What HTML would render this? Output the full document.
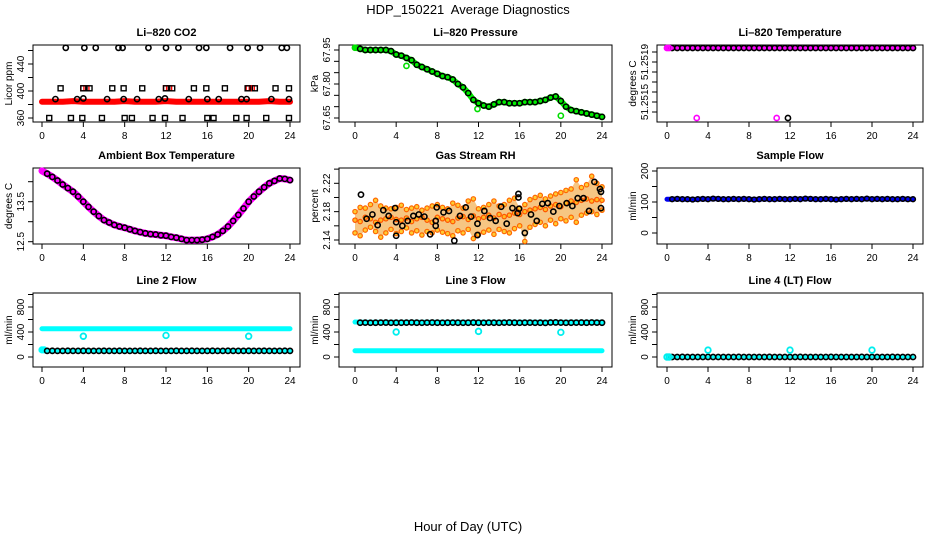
<!DOCTYPE html>
<html><head><meta charset="utf-8"><style>
html,body{margin:0;padding:0;background:#fff;}
svg{display:block;font-family:"Liberation Sans",sans-serif;}
</style></head><body>
<svg id="chart" width="936" height="540" viewBox="0 0 936 540" xmlns="http://www.w3.org/2000/svg">
<rect x="0" y="0" width="936" height="540" fill="#fff"/>
<text x="468" y="14" font-size="13" text-anchor="middle">HDP_150221&#160; Average Diagnostics</text>
<text x="468" y="531" font-size="13" text-anchor="middle">Hour of Day (UTC)</text>
</svg>
<script>
const hours49 = [0,0.5,1,1.5,2,2.5,3,3.5,4,4.5,5,5.5,6,6.5,7,7.5,8,8.5,9,9.5,10,10.5,11,11.5,12,12.5,13,13.5,14,14.5,15,15.5,16,16.5,17,17.5,18,18.5,19,19.5,20,20.5,21,21.5,22,22.5,23,23.5,24];
const hours25 = [0,1,2,3,4,5,6,7,8,9,10,11,12,13,14,15,16,17,18,19,20,21,22,23,24];
const xTicks = [0,4,8,12,16,20,24];

// CO2
const co2TopH = [2.3,4.1,5.2,7.4,7.8,10.3,12.0,13.2,15.2,15.9,18.2,19.9,21.1,23.2,23.7];
const co2TopV = [464,464,464,464,464,464,464,464,464,464,464,464,464,464,464];
const co2SqH = [1.8,4.0,4.6,6.8,7.9,9.7,12.0,12.6,14.7,15.9,17.7,19.9,20.6,22.6,23.9];
const co2SqV = [404,404,404,404,404,404,404,404,404,404,404,404,404,404,404];
const co2MidH = [1.3,3.4,4.0,6.3,7.9,9.2,11.3,11.9,14.2,16.0,17.1,19.3,19.8,22.2,23.9];
const co2MidV = [388,388,389,388,388,388,388,389,388,388,388,388,388,388,388];
const co2BotH = [0.7,2.8,3.9,5.8,8.0,8.7,10.7,11.9,13.6,16.0,16.6,18.8,19.8,21.7,23.9];
const co2BotV = [360,360,360,360,360,360,360,360,360,360,360,360,360,360,360];
const co2RedV = [384,384,384,385,384,384,384,384,385,384,384,384,385,384,384,384,384,384,384,384,384,384,385,384,384];
const co2RedSqH = [4.0,4.3,12.0,12.3,20.0,20.3];
const co2RedSqV = [404,404,404,404,404,404];

// Pressure
const presV = [67.96,67.955,67.95,67.95,67.95,67.95,67.95,67.945,67.93,67.925,67.915,67.905,67.885,67.875,67.865,67.855,67.845,67.835,67.83,67.82,67.80,67.785,67.76,67.73,67.715,67.705,67.70,67.71,67.72,67.72,67.715,67.715,67.715,67.72,67.72,67.72,67.725,67.73,67.74,67.745,67.725,67.70,67.685,67.68,67.675,67.67,67.665,67.66,67.655];
const presOutH = [5.0,11.9,20.0];
const presOutV = [67.88,67.69,67.66];

// Li-820 temperature
const tempV = [51.25204,51.25204,51.25204,51.25204,51.25204,51.25204,51.25204,51.25204,51.25204,51.25204,51.25204,51.25204,51.25204,51.25204,51.25204,51.25204,51.25204,51.25204,51.25204,51.25204,51.25204,51.25204,51.25204,51.25204,51.25204,51.25204,51.25204,51.25204,51.25204,51.25204,51.25204,51.25204,51.25204,51.25204,51.25204,51.25204,51.25204,51.25204,51.25204,51.25204,51.25204,51.25204,51.25204,51.25204,51.25204,51.25204,51.25204,51.25204,51.25204];
const tempMagH = [0.0,0.2,2.9,10.7];
const tempMagV = [51.25204,51.25204,51.25134,51.25134];
const tempLowH = [11.8];
const tempLowV = [51.25134];

// Ambient box temperature
const ambV = [14.27,14.2,14.12,14.03,13.93,13.84,13.75,13.63,13.5,13.37,13.25,13.14,13.04,12.98,12.92,12.88,12.85,12.81,12.77,12.74,12.71,12.69,12.68,12.66,12.65,12.62,12.6,12.57,12.54,12.54,12.54,12.55,12.57,12.62,12.68,12.77,12.88,13.02,13.17,13.33,13.5,13.63,13.75,13.86,13.96,14.02,14.08,14.07,14.04];

// Gas stream RH
const rhHi = [2.180,2.186,2.185,2.190,2.196,2.188,2.185,2.184,2.186,2.189,2.183,2.185,2.187,2.182,2.185,2.188,2.190,2.186,2.184,2.192,2.189,2.185,2.195,2.198,2.184,2.186,2.190,2.195,2.188,2.190,2.196,2.199,2.185,2.190,2.197,2.200,2.203,2.198,2.202,2.205,2.207,2.210,2.212,2.225,2.214,2.218,2.230,2.220,2.215];
const rhMid = [2.168,2.166,2.172,2.170,2.165,2.168,2.170,2.172,2.169,2.168,2.171,2.166,2.170,2.172,2.168,2.165,2.172,2.170,2.168,2.166,2.171,2.173,2.169,2.174,2.170,2.172,2.175,2.171,2.176,2.173,2.175,2.178,2.176,2.180,2.182,2.184,2.186,2.183,2.188,2.190,2.187,2.192,2.195,2.193,2.196,2.198,2.195,2.197,2.196];
const rhLo = [2.150,2.146,2.154,2.158,2.152,2.144,2.150,2.155,2.149,2.152,2.157,2.150,2.153,2.147,2.152,2.150,2.154,2.151,2.149,2.146,2.153,2.150,2.155,2.142,2.148,2.151,2.154,2.148,2.155,2.152,2.150,2.156,2.160,2.138,2.158,2.162,2.165,2.160,2.168,2.163,2.170,2.167,2.172,2.165,2.175,2.178,2.180,2.176,2.182];
const rhBlkH = [0.58,1.13,1.69,2.2,2.75,3.27,3.89,4.0,4.0,4.6,5.12,5.67,6.2,6.74,7.3,7.84,7.84,7.94,8.6,9.13,9.65,10.2,10.76,11.28,11.9,11.9,12.57,13.12,13.67,14.74,14.2,15.3,15.88,15.88,15.94,15.8,16.5,17.1,17.66,18.2,18.73,19.27,19.86,20.57,21.12,21.64,22.2,22.74,23.26,23.8,23.9,23.9];
const rhBlkV = [2.204,2.170,2.176,2.161,2.182,2.174,2.185,2.165,2.146,2.160,2.167,2.174,2.176,2.173,2.148,2.167,2.160,2.186,2.179,2.181,2.139,2.174,2.186,2.173,2.163,2.147,2.181,2.171,2.167,2.163,2.187,2.185,2.205,2.200,2.184,2.178,2.150,2.176,2.167,2.191,2.192,2.180,2.188,2.192,2.188,2.199,2.199,2.181,2.222,2.212,2.185,2.208];

// Sample flow
const sampV = [109,109,110,109,109,108,109,110,109,111,110,109,109,110,109,110,109,108,109,110,109,109,110,109,109,110,109,111,110,109,109,110,109,108,109,110,109,110,109,111,109,110,109,110,109,109,110,109,109];

// Line flows
const l2HiV = [452,452,452,452,452,452,452,452,452,452,452,452,452,452,452,452,452,452,452,452,452,452,452,452,452];
const l2LoV = [98,98,99,98,98,99,98,98,99,98,98,98,99,98,98,99,98,98,98,99,98,98,99,98,98,98,99,98,98,99,98,98,98,99,98,98,99,98,98,98,99,98,98,99,98,98,98,99,98];
const l2DipH = [4,12,20];
const l2DipV = [332,345,332];
const l2StartH = [0,0.2];
const l2StartV = [114,114];

const l3BlkV = [548,549,550,548,549,550,551,548,549,549,550,552,549,548,550,551,549,548,549,550,549,548,549,551,549,548,550,549,548,550,551,549,548,549,550,548,549,546,552,553,550,548,549,550,551,549,552,550,549];
const l3CyanHiV = [560,556,556,556,556,556,556,556,556,556,556,556,556,556,556,556,556,556,556,556,556,556,556,556,556];
const l3CyanLoV = [100,100,100,100,100,100,100,100,100,100,100,100,100,100,100,100,100,100,100,100,100,100,100,100,100];
const l3DipH = [4,12,20];
const l3DipV = [400,410,395];

const l4BlkV = [0,0,0,1,0,0,0,0,1,0,0,0,0,0,1,0,0,0,0,0,1,0,0,0,0,0,1,0,0,0,0,0,1,0,0,0,0,0,1,0,0,0,0,0,1,0,0,0,0];
const l4CyanH = [0,0.2,4,12,20];
const l4CyanV = [0,0,110,110,110];

const svg = document.getElementById('chart');
const NS = 'http://www.w3.org/2000/svg';
function mk(tag, attrs, parent){
  const e = document.createElementNS(NS, tag);
  for (const k in attrs) e.setAttribute(k, attrs[k]);
  (parent||svg).appendChild(e);
  return e;
}

function makePanel(key, title, bx0, by0, bx1, by1, hx0, hx1, v1, p1, v2, p2, ticks, labels, ylab){
  const g = mk('g', {});
  
  
  const sx = h => hx0 + (h/24)*(hx1-hx0);
  const sy = v => p1 + (v - v1)*(p2-p1)/(v2-v1);
  const box = mk('rect', {x:bx0, y:by0, width:bx1-bx0, height:by1-by0, fill:'none', stroke:'#000', 'stroke-width':1}, g);
  
  
  const t = mk('text', {x:(bx0+bx1)/2, y:by0-9, 'font-size':11, 'font-weight':'bold', 'text-anchor':'middle'}, g);
  t.textContent = title;
  
  
  const xa = mk('g', {}, g);
  
  
  xTicks.forEach(h => {
    const ln = mk('line', {x1:sx(h), x2:sx(h), y1:by1, y2:by1+5, stroke:'#000'}, xa);
    
    
    const tx = mk('text', {x:sx(h), y:by1+17, 'font-size':10, 'text-anchor':'middle'}, xa);
    tx.textContent = h;
    
    
  });
  const ya = mk('g', {}, g);
  
  
  ticks.forEach((v, i) => {
    const y = sy(v);
    const ln = mk('line', {x1:bx0-5, x2:bx0, y1:y, y2:y, stroke:'#000'}, ya);
    
    
    if (labels[i] !== '') {
      const tx = mk('text', {x:0, y:0, 'font-size':10, 'text-anchor':'middle', transform:'translate(' + (bx0-9) + ',' + y + ') rotate(-90)'}, ya);
      tx.textContent = labels[i];
      
      
    }
  });
  const yl = mk('text', {x:0, y:0, 'font-size':10, 'text-anchor':'middle', transform:'translate(' + (bx0-21) + ',' + ((by0+by1)/2) + ') rotate(-90)'}, g);
  yl.textContent = ylab;
  
  
  const marks = mk('g', {}, g);
  
  
  return {sx, sy, g: marks};
}

function circles(P, hs, vs, color, r, sw, fill, name){
  hs.forEach((h, i) => {
    const c = mk('circle', {cx:P.sx(h), cy:P.sy(vs[i]), r:r, fill:fill||'none', stroke:color, 'stroke-width':sw}, P.g);
    
    
  });
}
function squares(P, hs, vs, color, name){
  hs.forEach((h, i) => {
    const s = mk('rect', {x:P.sx(h)-2.5, y:P.sy(vs[i])-2.5, width:5, height:5, fill:'none', stroke:color, 'stroke-width':1.4}, P.g);
    
    
  });
}
function band(P, hs, vs, color, w, name){
  const pts = hs.map((h, i) => P.sx(h) + ',' + P.sy(vs[i])).join(' ');
  const pl = mk('polyline', {points:pts, fill:'none', stroke:color, 'stroke-width':w, 'stroke-linejoin':'round', 'stroke-linecap':'round'}, P.g);
  
  
}

const C = [[33,300,42,290],[339,612,355,602],[657,923,667,913]];
const R = [[45,122],[168,244],[293,367]];

let P = makePanel('co2', 'Li\u2013820 CO2', C[0][0], R[0][0], C[0][1], R[0][1], C[0][2], C[0][3], 360, 118, 440, 64,
  [360,380,400,420,440,460], ['360','','400','','440',''], 'Licor ppm');
band(P, hours25, co2RedV, '#ff0000', 6, 'co2-red-series');
squares(P, co2RedSqH, co2RedSqV, '#ff0000', 'co2-red-point');
circles(P, co2TopH, co2TopV, '#000', 2.6, 1.6, null, 'co2-high-point');
squares(P, co2SqH, co2SqV, '#000', 'co2-square-point');
circles(P, co2MidH, co2MidV, '#000', 2.6, 1.6, null, 'co2-mid-point');
squares(P, co2BotH, co2BotV, '#000', 'co2-low-point');

P = makePanel('pressure', 'Li\u2013820 Pressure', C[1][0], R[0][0], C[1][1], R[0][1], C[1][2], C[1][3], 67.65, 118, 67.95, 50,
  [67.65,67.70,67.75,67.80,67.85,67.90,67.95], ['67.65','','','67.80','','','67.95'], 'kPa');
band(P, hours49, presV, '#00ee00', 6, 'pressure-green-series');
circles(P, hours49, presV, '#00dd00', 2.6, 1.6, null, 'pressure-green-point');
circles(P, presOutH, presOutV, '#00dd00', 2.6, 1.6, null, 'pressure-outlier');
circles(P, hours49.slice(1), presV.slice(1), '#000', 2.6, 1.5, null, 'pressure-black-point');

P = makePanel('li820-temp', 'Li\u2013820 Temperature', C[2][0], R[0][0], C[2][1], R[0][1], C[2][2], C[2][3], 51.2515, 102, 51.2519, 62,
  [51.2514,51.2515,51.2516,51.2517,51.2518,51.2519,51.2520], ['','51.2515','','','','51.2519',''], 'degrees C');
band(P, hours49, tempV, '#ff00ff', 4, 'temp-magenta-series');
circles(P, hours49.slice(1), tempV.slice(1), '#000', 2.6, 1.6, null, 'temp-black-point');
circles(P, tempMagH, tempMagV, '#ff00ff', 2.6, 1.6, null, 'temp-magenta-point');
circles(P, tempLowH, tempLowV, '#000', 2.6, 1.6, null, 'temp-low-point');

P = makePanel('ambient', 'Ambient Box Temperature', C[0][0], R[1][0], C[0][1], R[1][1], C[0][2], C[0][3], 12.5, 241.7, 13.5, 201.7,
  [12.5,13.0,13.5,14.0], ['12.5','','13.5',''], 'degrees C');
band(P, hours49, ambV, '#ff00ff', 7, 'ambient-magenta-series');
circles(P, hours49.slice(1), ambV.slice(1), '#000', 2.6, 1.6, null, 'ambient-black-point');

P = makePanel('rh', 'Gas Stream RH', C[1][0], R[1][0], C[1][1], R[1][1], C[1][2], C[1][3], 2.14, 240, 2.22, 183.3,
  [2.14,2.16,2.18,2.20,2.22,2.24], ['2.14','','2.18','','2.22',''], 'percent');
(function(){
  const up = hours49.map((h, i) => P.sx(h) + ',' + P.sy(rhHi[i]));
  const dn = hours49.map((h, i) => P.sx(h) + ',' + P.sy(rhLo[i])).reverse();
  const poly = mk('polygon', {points: up.concat(dn).join(' '), fill:'#f0a030', stroke:'none', opacity:0.6}, P.g);
  
  
})();
circles(P, hours49, rhHi, '#ff6600', 2.2, 1.2, '#ffcc33', 'rh-high-point');
circles(P, hours49, rhMid, '#ff5500', 2.2, 1.2, '#ffbb22', 'rh-mid-point');
circles(P, hours49, rhLo, '#ff6600', 2.2, 1.2, '#ffcc33', 'rh-low-point');
circles(P, rhBlkH, rhBlkV, '#000', 2.6, 1.6, null, 'rh-black-point');

P = makePanel('sample-flow', 'Sample Flow', C[2][0], R[1][0], C[2][1], R[1][1], C[2][2], C[2][3], 0, 233, 200, 171,
  [0,50,100,150,200], ['0','','100','','200'], 'ml/min');
band(P, hours49, sampV, '#0000ee', 5, 'sample-blue-series');
circles(P, hours49.slice(1), sampV.slice(1), '#000', 2.4, 1.5, null, 'sample-black-point');

const flowTicks = [0,200,400,600,800,1000];
const flowLabels = ['0','','400','','800',''];
P = makePanel('line2', 'Line 2 Flow', C[0][0], R[2][0], C[0][1], R[2][1], C[0][2], C[0][3], 0, 357, 800, 307, flowTicks, flowLabels, 'ml/min');
band(P, hours25, l2HiV, '#00ffff', 5, 'line2-cyan-high-series');
circles(P, l2StartH, l2StartV, '#00ffff', 2.6, 2, '#00ffff', 'line2-cyan-start');
band(P, hours49.slice(1), l2LoV.slice(1), '#00ffff', 4, 'line2-cyan-low-series');
circles(P, hours49.slice(1), l2LoV.slice(1), '#000', 2.6, 1.6, null, 'line2-black-point');
circles(P, l2DipH, l2DipV, '#00eeee', 2.8, 1.8, null, 'line2-cyan-dip');

P = makePanel('line3', 'Line 3 Flow', C[1][0], R[2][0], C[1][1], R[2][1], C[1][2], C[1][3], 0, 357, 800, 307, flowTicks, flowLabels, 'ml/min');
band(P, hours25, l3CyanLoV, '#00ffff', 5, 'line3-cyan-low-series');
band(P, hours25, l3CyanHiV, '#00ffff', 5, 'line3-cyan-high-series');
circles(P, hours49.slice(1), l3BlkV.slice(1), '#000', 2.6, 1.6, null, 'line3-black-point');
circles(P, l3DipH, l3DipV, '#00eeee', 2.8, 1.8, null, 'line3-cyan-dip');

P = makePanel('line4', 'Line 4 (LT) Flow', C[2][0], R[2][0], C[2][1], R[2][1], C[2][2], C[2][3], 0, 357, 800, 307, flowTicks, flowLabels, 'ml/min');
band(P, hours49, l4BlkV, '#00ffff', 3, 'line4-cyan-series');
circles(P, hours49.slice(1), l4BlkV.slice(1), '#000', 2.6, 1.6, null, 'line4-black-point');
circles(P, l4CyanH, l4CyanV, '#00eeee', 2.8, 1.8, null, 'line4-cyan-point');
</script>
</body></html>
